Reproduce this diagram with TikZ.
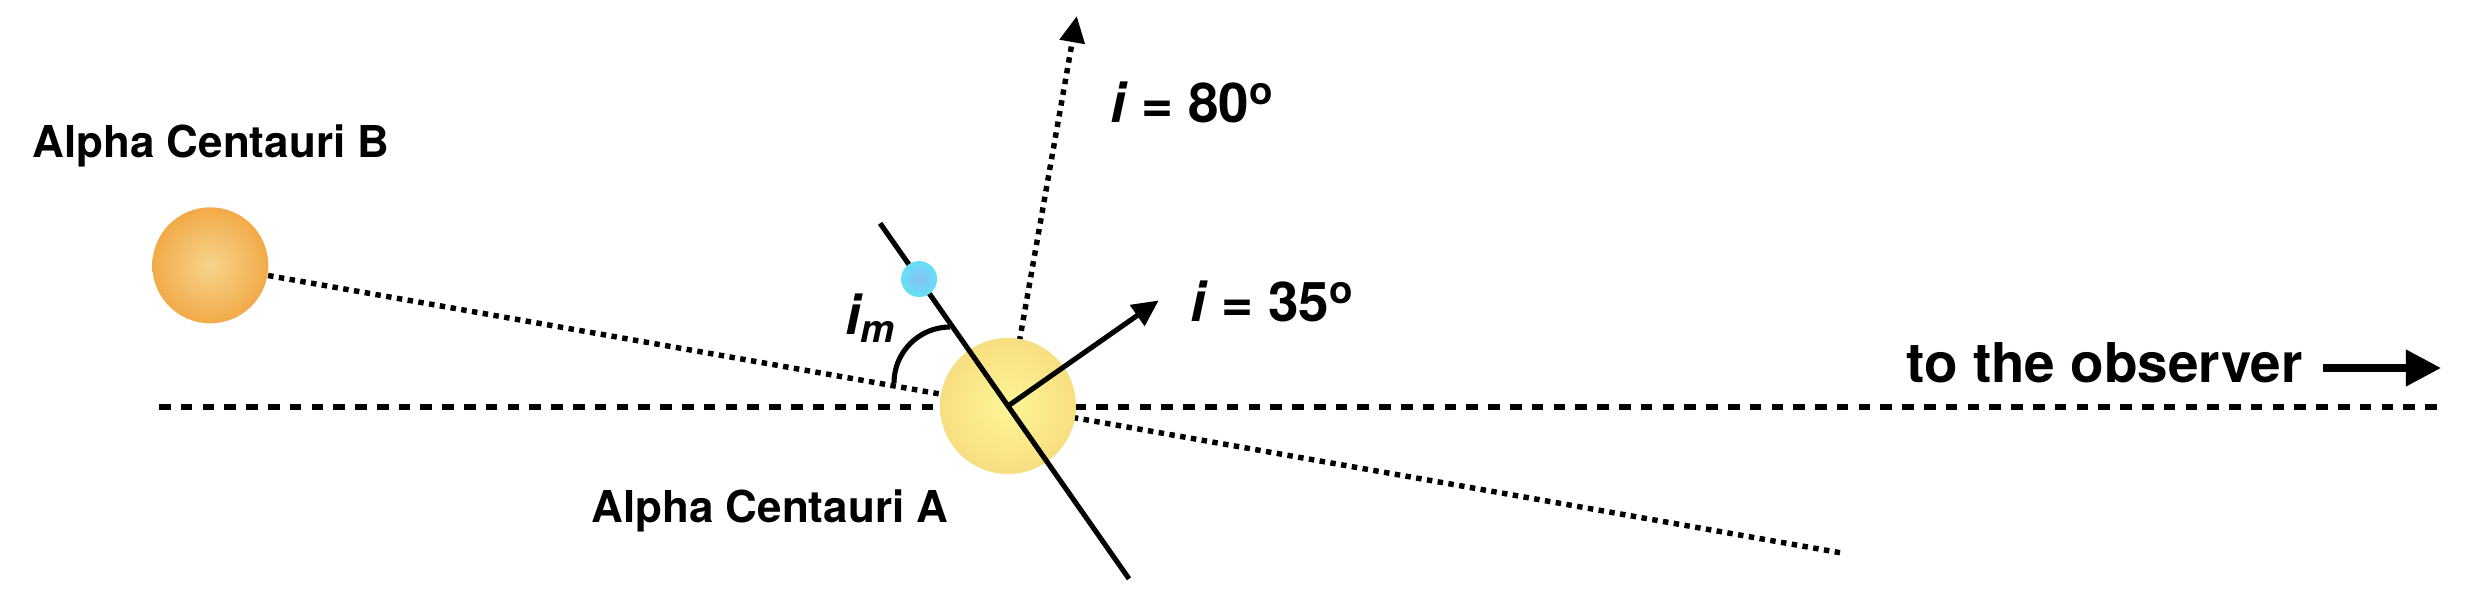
\documentclass[tikz,border=0pt]{standalone}
\usepackage{fontspec}
\setmainfont{TeX Gyre Heros}
\usetikzlibrary{arrows.meta,calc,backgrounds}
\definecolor{starAin}{RGB}{253,245,150}
\definecolor{starAout}{RGB}{248,222,128}
\definecolor{starBin}{RGB}{246,212,140}
\definecolor{starBout}{RGB}{242,170,72}
\definecolor{planetin}{RGB}{135,190,245}
\definecolor{planetout}{RGB}{100,225,245}
\begin{document}
\begin{tikzpicture}
	[
		line cap=butt,
		line join=miter,
		>={Triangle[length=7.5pt,width=7pt]},
		lbl/.style={inner sep=0pt,font=\fontsize{12.5}{15}\selectfont\bfseries},
		biglbl/.style={inner sep=0pt,font=\fontsize{15.6}{18}\selectfont\bfseries},
		dots/.style={line width=1.55pt,dash pattern=on 1.55pt off 1.55pt},
		dashes/.style={line width=1.45pt,dash pattern=on 3.3pt off 2.9pt},
		solidline/.style={line width=1.45pt},
		starA/.style={circle,minimum size=1.36cm,inner sep=0pt,shading=radial,inner color=starAin,outer color=starAout},
		starB/.style={circle,minimum size=1.16cm,inner sep=0pt,shading=radial,inner color=starBin,outer color=starBout},
		planet/.style={circle,minimum size=0.36cm,inner sep=0pt,shading=radial,inner color=planetin,outer color=planetout}
	]
		\useasboundingbox (0,0) rectangle (24.9,5.92);
		\node[starA] (A) at (10.08,1.86) {};
		\node[starB] (B) at ($(A)+(170:8.1)$) {};
		\coordinate (Bend) at ($(A)+(-10:8.47)$);
		\coordinate (west) at (1.59,1.85);
		\coordinate (east) at (24.41,1.85);
		\coordinate (tip80) at ($(A)+(80:3.96)$);
		\coordinate (tip35) at ($(A)+(35:1.84)$);
		\coordinate (axtop) at ($(A)+(125:2.23)$);
		\coordinate (axbot) at ($(A)+(-55:2.11)$);
		\begin{scope}[on background layer]
			\draw [dots] (B) -- (Bend);
			\draw [dashes] (west) -- (east);
			\draw [dots,->] (A.center) -- (tip80);
		\end{scope}
		\draw [solidline] (axtop) -- (axbot);
		\draw [solidline,->] (A.center) -- (tip35);
		\node[planet] (P) at ($(A)+(125:1.55)$) {};
		\draw [solidline] ($(A)+(-1.14,0.23)$) arc[start angle=180,end angle=90,radius=0.56];
		\node[lbl,anchor=base west] (labB) at (0.32,4.34) {Alpha Centauri B};
		\node[lbl,anchor=base west] (labA) at (5.91,0.69) {Alpha Centauri A};
		\node[biglbl,anchor=base west] (lab80) at (11.10,4.69) {\itshape i\upshape{} = 80\textsuperscript{o}};
		\node[biglbl,anchor=base west] (lab35) at (11.90,2.70) {\itshape i\upshape{} = 35\textsuperscript{o}};
		\node[biglbl,anchor=base west] (labm) at (8.45,2.57) {\itshape i\textsubscript{m}};
		\node[biglbl,anchor=base west] (obs) at (19.06,2.09) {to the observer};
		\coordinate (obsend) at (24.41,2.24);
		\draw [line width=2pt,-{Triangle[length=10pt,width=10pt]}] ($(obs.east |- obsend)+(0.2,0)$) -- (obsend);
	\end{tikzpicture}
\end{document}
